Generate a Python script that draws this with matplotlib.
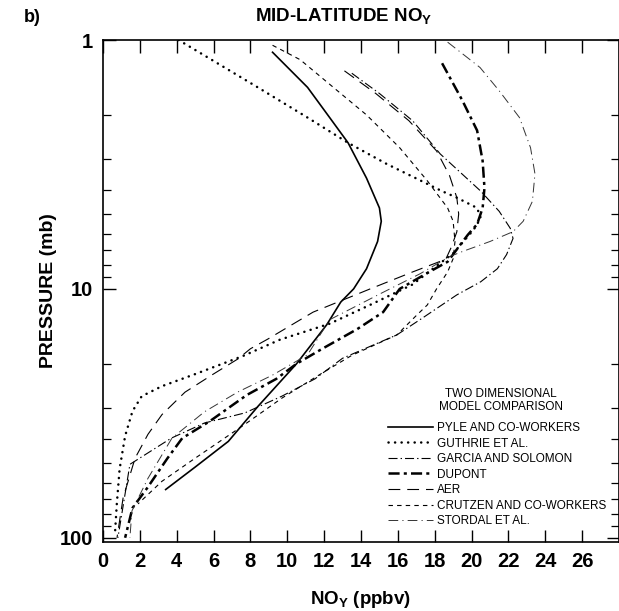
import matplotlib
matplotlib.use("Agg")
import matplotlib.pyplot as plt
from matplotlib.ticker import LogLocator, FixedLocator, NullFormatter

plt.rcParams["font.family"] = ["Liberation Sans", "DejaVu Sans"]
plt.rcParams["mathtext.fontset"] = "custom"
plt.rcParams["mathtext.rm"] = "Liberation Sans:bold"
plt.rcParams["mathtext.bf"] = "Liberation Sans:bold"
plt.rcParams["lines.scale_dashes"] = False

# NOy mixing ratio (ppbv) against pressure (mb) for each 2-D model
pyle_p = [1.12, 1.55, 2.05, 2.59, 3.59, 4.73, 5.35, 6.45, 8.3, 10.0, 11.3, 13.9, 20.0, 29.7, 41, 52, 64]
pyle_x = [9.2, 11.1, 12.3, 13.3, 14.3, 15.0, 15.1, 14.9, 14.3, 13.6, 12.9, 12.15, 10.5, 8.4, 6.8, 5.0, 3.4]

guthrie_p = [1.0, 1.55, 2.05, 2.59, 3.15, 3.6, 4.05, 4.3, 4.73, 5.2, 5.8, 7.2, 8.3, 9.6, 11.5, 13.8, 16.0,
             18.6, 22.0, 24.6, 27.0, 31.0, 39.0, 53.0, 73.0, 96.0]
guthrie_x = [4.1, 8.4, 11.1, 13.3, 15.4, 17.0, 18.4, 19.2, 20.3, 20.5, 20.1, 19.0, 17.9, 16.8, 14.6, 12.3, 9.6,
             7.6, 5.0, 3.2, 2.1, 1.6, 1.2, 0.9, 0.75, 0.65]

garcia_p = [1.36, 1.64, 2.11, 2.87, 4.05, 4.88, 5.71, 6.27, 7.28, 8.3, 9.36, 10.57, 13.0, 15.3, 19.0, 23.0,
            27.0, 31.5, 34.6, 39.8, 50.7, 100]
garcia_x = [13.5, 15.0, 16.8, 18.3, 20.5, 21.5, 22.1, 22.25, 21.9, 21.4, 20.5, 19.2, 17.4, 15.95, 13.0, 11.5,
            9.7, 7.7, 5.5, 3.7, 1.46, 0.81]

dupont_p = [1.24, 1.75, 2.31, 3.06, 3.93, 4.73, 5.5, 6.06, 6.63, 7.78, 8.55, 10.0, 12.4, 14.5, 17.4, 20.0,
            23.0, 26.7, 34.0, 39.8, 47.9, 63.1, 75.9, 100]
dupont_x = [18.4, 19.5, 20.3, 20.6, 20.7, 20.6, 20.3, 19.8, 19.4, 18.7, 17.7, 16.1, 15.2, 13.8, 11.9, 10.5,
            9.4, 7.8, 5.8, 4.3, 3.5, 2.4, 1.6, 1.2]

aer_p = [1.33, 1.64, 2.11, 2.79, 3.5, 4.3, 5.0, 5.9, 6.8, 7.6, 8.55, 10.0, 12.4, 15.9, 17.4, 19.1, 22.2, 26.0,
         32.0, 38.4, 47.9, 69.2, 100]
aer_x = [13.1, 14.8, 16.6, 18.1, 18.8, 19.2, 19.3, 19.2, 18.9, 18.6, 16.8, 14.5, 11.4, 8.95, 8.0, 7.33, 5.9,
         4.45, 3.2, 2.44, 1.74, 1.09, 0.76]

crutzen_p = [1.05, 1.2, 1.55, 2.0, 2.71, 3.68, 4.73, 5.35, 6.45, 7.56, 8.55, 10.0, 11.6, 12.8, 15.3, 18.5,
             22.0, 27.5, 35.0, 47.9, 59.3, 73.1]
crutzen_x = [9.2, 10.7, 12.5, 14.3, 16.1, 17.6, 18.7, 19.0, 19.1, 19.0, 18.7, 18.1, 17.6, 17.0, 15.95, 13.5,
             11.8, 9.7, 7.7, 5.0, 3.2, 1.9]

stordal_p = [1.02, 1.29, 1.6, 2.05, 2.71, 3.45, 4.45, 5.35, 5.89, 6.45, 7.08, 7.42, 8.7, 10.5, 13.3, 18.4,
             22.2, 26.0, 31.2, 39.8, 57.7, 78.0, 100]
stordal_x = [18.7, 20.46, 21.5, 22.6, 23.2, 23.44, 23.3, 22.8, 22.25, 21.0, 19.5, 18.8, 17.2, 15.0, 12.3, 11.1,
             9.2, 7.3, 5.5, 3.74, 2.44, 1.57, 1.46]

models = ["PYLE AND CO-WORKERS", "GUTHRIE ET AL.", "GARCIA AND SOLOMON", "DUPONT", "AER",
          "CRUTZEN AND CO-WORKERS", "STORDAL ET AL."]

x_ticks = list(range(0, 27, 2))
p_labels = [1, 10, 100]

fig = plt.figure(figsize=(6.19, 6.11), dpi=100)
ax = fig.add_axes([103 / 619, 1 - 542 / 611, 1 - 103 / 619, (542 - 40) / 611])

series = [
    (pyle_x, pyle_p, dict(color="black", lw=1.2, ls="-")),
    (guthrie_x, guthrie_p, dict(color="black", lw=1.8, ls=(0, (0.1, 4.6)), dash_capstyle="round")),
    (garcia_x, garcia_p, dict(color="black", lw=0.8, ls=(0, (6.5, 2.2, 1.0, 2.2)))),
    (dupont_x, dupont_p, dict(color="black", lw=1.8, ls=(0, (8, 3, 2.2, 3)))),
    (aer_x, aer_p, dict(color="black", lw=0.8, ls=(0, (8.5, 5)))),
    (crutzen_x, crutzen_p, dict(color="black", lw=0.8, ls=(0, (3.2, 3)))),
    (stordal_x, stordal_p, dict(color="#333333", lw=0.7, ls=(0, (7, 3, 0.8, 3)))),
]
for (xs, ps, style), name in zip(series, models):
    ax.plot(xs, ps, label=name, **style)

ax.set_yscale("log")
ax.set_ylim(104, 1)
ax.set_xlim(0, 28)

ax.xaxis.set_major_locator(FixedLocator(x_ticks))
ax.set_xticklabels([str(t) for t in x_ticks])
ax.yaxis.set_major_locator(FixedLocator(p_labels))
ax.set_yticklabels([str(t) for t in p_labels])
ax.yaxis.set_minor_locator(LogLocator(base=10, subs=range(2, 10)))
ax.yaxis.set_minor_formatter(NullFormatter())

ax.tick_params(axis="both", which="major", direction="in", top=True, right=True,
               length=9, width=1.0, labelsize=14.5, pad=7)
ax.tick_params(axis="y", which="minor", direction="in", left=True, right=True,
               length=5.5, width=0.9)
for lab in ax.get_xticklabels() + ax.get_yticklabels():
    lab.set_fontweight("bold")
for s in ax.spines.values():
    s.set_linewidth(1.2)

ax.set_xlabel(r"NO$_{\mathrm{Y}}$ (ppbv)", fontsize=13.5, fontweight="bold", labelpad=13)
ax.set_ylabel("PRESSURE (mb)", fontsize=14, fontweight="bold", labelpad=2)
fig.text(344 / 619, 1 - 17 / 611, r"MID-LATITUDE NO$_{\mathrm{Y}}$", ha="center", va="center",
         fontsize=13.5, fontweight="bold")
fig.text(32 / 619, 1 - 17 / 611, "b)", ha="center", va="center", fontsize=13, fontweight="bold")

# legend heading, then the line samples beneath it
fig.text(501 / 619, 1 - 394 / 611, "TWO DIMENSIONAL", ha="center", va="center", fontsize=8.5)
fig.text(501 / 619, 1 - 407 / 611, "MODEL COMPARISON", ha="center", va="center", fontsize=8.5)
leg = ax.legend(loc="upper left", bbox_to_anchor=(388 / 619, 1 - 422 / 611), bbox_transform=fig.transFigure,
                frameon=False, fontsize=8.5, handlelength=3.8, handletextpad=0.35, labelspacing=0.3,
                borderpad=0, borderaxespad=0)

fig.savefig("out.png", dpi=100, facecolor="white")
